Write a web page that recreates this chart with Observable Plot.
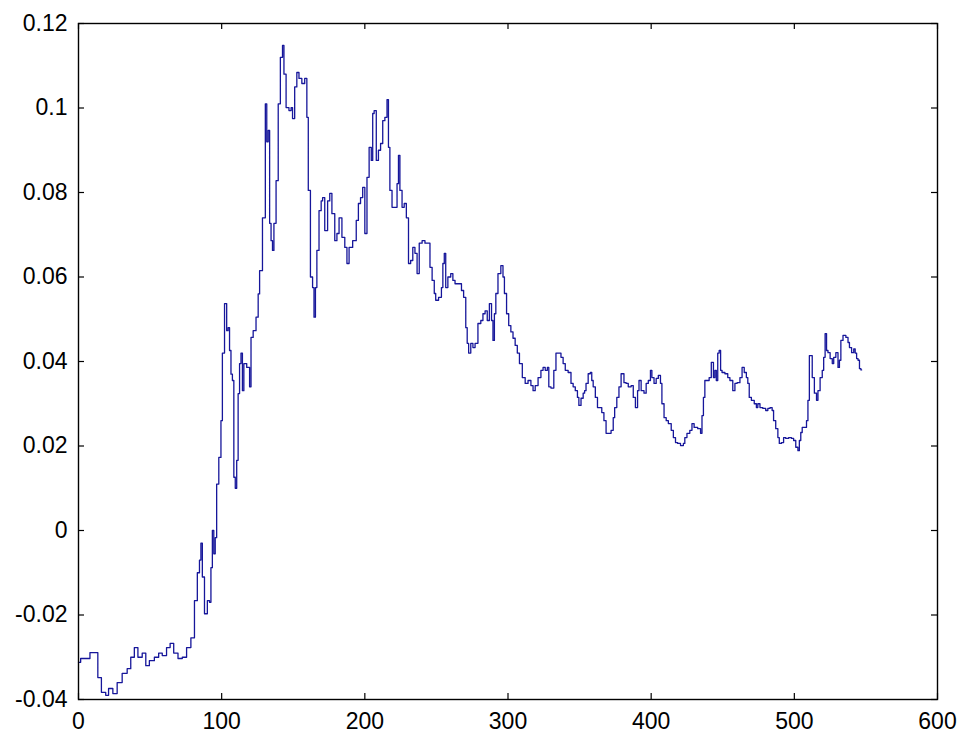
<!DOCTYPE html>
<html>
<head>
<meta charset="utf-8">
<script src="https://cdn.jsdelivr.net/npm/d3@7"></script>
<script src="https://cdn.jsdelivr.net/npm/@observablehq/plot@0.6"></script>
<style>
  html, body { margin: 0; padding: 0; background: #ffffff; }
  #chart svg { display: block; }
</style>
</head>
<body>
<div id="chart"></div>
<script>
const xTicks = [0, 100, 200, 300, 400, 500, 600];
const yTicks = [-0.04, -0.02, 0, 0.02, 0.04, 0.06, 0.08, 0.1, 0.12];

const xs = [0,3,13,14,18,20,22,26,28,33,35,38,40,43,46,48,51,55,57,60,63,65,68,71,74,77,80,82,84,85,86,87,89,91,92,93,94,95,96,97,99,100,101,103,104,105,106,107,108,109,110,111,112,113,114,115,116,119,120,121,123,125,126,127,128,129,130,131,132,133,134,135,136,137,139,140,142,143,144,146,148,149,150,152,153,155,157,159,160,161,163,164,165,166,167,169,170,171,173,175,176,178,180,181,183,185,187,188,190,193,195,196,198,199,201,202,204,205,206,207,209,210,212,213,215,216,217,218,220,222,223,224,225,227,228,230,231,233,234,236,237,239,241,243,245,246,248,249,250,253,254,255,256,257,259,261,262,264,267,268,270,271,272,273,275,276,278,280,282,283,285,286,288,289,290,291,292,294,296,297,298,300,301,303,304,306,307,309,311,313,315,317,318,320,322,324,325,327,328,329,331,333,334,336,338,339,341,343,345,346,348,349,350,352,353,354,355,357,358,359,360,362,363,365,366,368,369,371,373,374,375,377,378,380,382,383,385,387,388,390,391,392,394,396,397,399,400,401,403,404,406,407,408,410,411,413,415,416,418,419,422,423,424,426,428,429,431,434,435,436,437,438,440,441,443,444,445,446,447,448,449,450,453,454,456,458,459,461,463,464,466,467,468,469,471,473,474,475,477,479,481,482,484,485,486,488,489,490,492,493,495,497,499,500,502,503,504,505,506,508,509,510,511,512,513,515,516,517,519,520,521,522,523,524,526,527,528,530,531,532,533,535,537,538,539,541,542,543,544,545,546,547];

const ys = [-0.0312,-0.0303,-0.0289,-0.0348,-0.0383,-0.039,-0.0374,-0.0386,-0.036,-0.0338,-0.0327,-0.030,-0.0277,-0.030,-0.029,-0.032,-0.0308,-0.030,-0.029,-0.0296,-0.0277,-0.0267,-0.029,-0.0303,-0.030,-0.0277,-0.0254,-0.0166,-0.010,-0.007,-0.003,-0.011,-0.0197,-0.0166,-0.017,-0.0088,0.0,-0.0055,-0.0017,0.011,0.0173,0.026,0.042,0.0537,0.0473,0.048,0.0426,0.037,0.0355,0.0126,0.010,0.0166,0.0324,0.0395,0.042,0.0331,0.0395,0.0386,0.034,0.0457,0.0473,0.0505,0.056,0.0615,0.0615,0.074,0.074,0.101,0.092,0.0947,0.0727,0.0686,0.0663,0.0727,0.0828,0.101,0.112,0.1148,0.108,0.1001,0.0994,0.1001,0.0975,0.105,0.1084,0.107,0.1058,0.107,0.0978,0.0805,0.060,0.0575,0.0505,0.0575,0.0663,0.0757,0.078,0.0788,0.071,0.078,0.0798,0.075,0.0686,0.0703,0.074,0.0694,0.067,0.0632,0.067,0.0686,0.0734,0.0774,0.0788,0.0812,0.0703,0.0836,0.0907,0.0876,0.0987,0.0994,0.0876,0.090,0.0916,0.097,0.0978,0.102,0.0907,0.0805,0.0765,0.0765,0.0821,0.0888,0.0805,0.0765,0.0774,0.074,0.0632,0.0639,0.067,0.0656,0.0608,0.068,0.0686,0.068,0.068,0.0623,0.0592,0.0561,0.0545,0.0552,0.0575,0.0632,0.0656,0.0575,0.060,0.0608,0.0592,0.0584,0.0584,0.0568,0.0552,0.048,0.0443,0.042,0.0443,0.0433,0.0443,0.049,0.0497,0.0513,0.052,0.0497,0.0537,0.0497,0.045,0.0513,0.0561,0.0608,0.0627,0.060,0.0561,0.0513,0.0485,0.047,0.0455,0.0438,0.042,0.0395,0.0362,0.0348,0.0355,0.0343,0.0331,0.0343,0.0362,0.0379,0.0386,0.0379,0.0386,0.034,0.0337,0.0379,0.042,0.042,0.041,0.0395,0.0379,0.0374,0.0348,0.034,0.0331,0.0315,0.0296,0.0313,0.0325,0.0331,0.0348,0.0371,0.0374,0.0355,0.034,0.0315,0.0291,0.0291,0.0279,0.026,0.023,0.023,0.0237,0.0267,0.0291,0.0315,0.034,0.0371,0.035,0.0348,0.034,0.0343,0.0315,0.0291,0.0331,0.0355,0.0331,0.0325,0.0348,0.0355,0.0379,0.0362,0.0348,0.036,0.0367,0.0348,0.030,0.0267,0.026,0.0253,0.0237,0.022,0.0208,0.0206,0.0201,0.0206,0.022,0.023,0.0237,0.0253,0.0244,0.0241,0.023,0.0272,0.0315,0.0355,0.0355,0.0362,0.0398,0.0362,0.0379,0.0355,0.042,0.0426,0.0379,0.0374,0.0371,0.0362,0.0355,0.0331,0.0348,0.035,0.0362,0.0386,0.0374,0.0362,0.0348,0.0315,0.0308,0.030,0.0291,0.030,0.0291,0.0289,0.0284,0.0289,0.0291,0.0284,0.026,0.0241,0.022,0.0206,0.0208,0.022,0.0218,0.022,0.0218,0.0213,0.0197,0.0189,0.0213,0.0232,0.0244,0.0244,0.026,0.0308,0.0414,0.0414,0.0362,0.0325,0.0308,0.0331,0.0362,0.0379,0.041,0.0466,0.0426,0.0421,0.0407,0.0395,0.041,0.0421,0.0386,0.0403,0.045,0.0462,0.0457,0.0445,0.0433,0.0421,0.043,0.042,0.0407,0.0403,0.0383,0.038];

const data = xs.map((x, i) => ({x, y: ys[i]}));

const W = 962, H = 738;
const mL = 78, mR = 25, mT = 23, mB = 39;
const innerH = H - mT - mB;
const innerW = W - mL - mR;
const tickLen = 6;
const font = "Liberation Sans, Arial, Helvetica, sans-serif";

const chart = Plot.plot({
  width: W,
  height: H,
  marginLeft: mL,
  marginRight: mR,
  marginTop: mT,
  marginBottom: mB,
  style: {background: "#ffffff", fontFamily: font, color: "#000"},
  x: {domain: [0, 600], label: null},
  y: {domain: [-0.04, 0.12], label: null},
  marks: [
    Plot.line(data, {x: "x", y: "y", stroke: "#16169a", strokeWidth: 1.3, curve: "step"}),
    Plot.tickX(xTicks, {x: d => d, stroke: "#000", strokeWidth: 1.2, insetTop: innerH - tickLen}),
    Plot.tickX(xTicks, {x: d => d, stroke: "#000", strokeWidth: 1.2, insetBottom: innerH - tickLen}),
    Plot.tickY(yTicks, {y: d => d, stroke: "#000", strokeWidth: 1.2, insetRight: innerW - tickLen}),
    Plot.tickY(yTicks, {y: d => d, stroke: "#000", strokeWidth: 1.2, insetLeft: innerW - tickLen}),
    Plot.axisX({ticks: xTicks, tickSize: 0, tickPadding: 13, fontSize: 23, tickFormat: d => String(d), fill: "#000", label: null}),
    Plot.axisY({ticks: yTicks, tickSize: 0, tickPadding: 11, fontSize: 23, tickFormat: d => String(d), fill: "#000", label: null}),
    Plot.frame({stroke: "#000", strokeWidth: 1.4})
  ]
});

document.getElementById("chart").appendChild(chart);
</script>
</body>
</html>
